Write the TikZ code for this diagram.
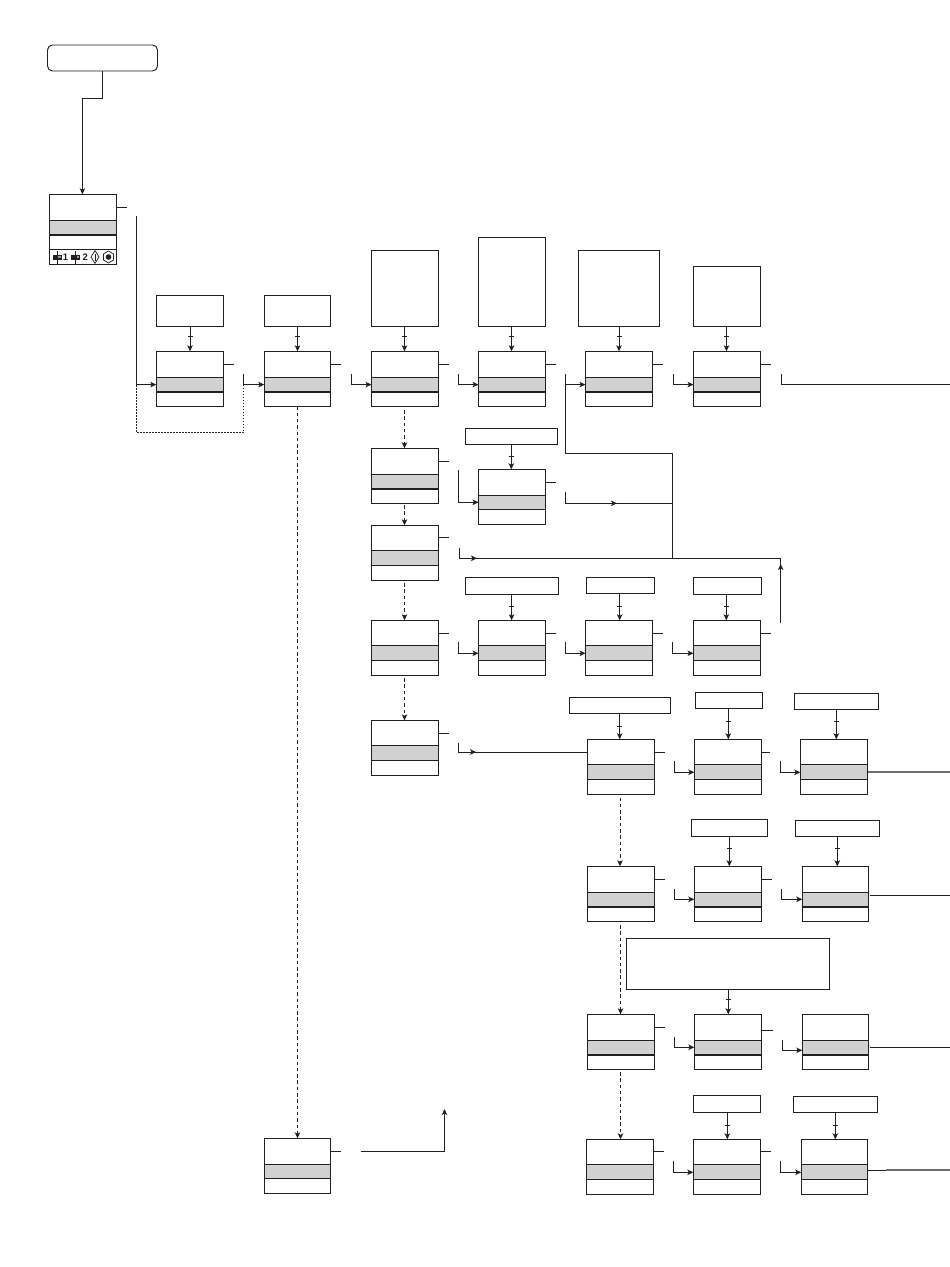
\documentclass[tikz,border=0pt]{standalone}
\usepackage{fontspec}
\setmainfont{Liberation Sans}
\usetikzlibrary{arrows.meta,calc}
\definecolor{ink}{HTML}{231F20}
\definecolor{band}{HTML}{D1D1D1}
\tikzset{
  base/.style={draw=ink,line width=0.95pt},
  frame/.style={base,rectangle,inner sep=0pt,outer sep=0pt,anchor=north west,fill=none},
  flow/.style={base,-{Stealth[length=6pt,width=5.5pt,inset=1.5pt]}},
  flowline/.style={base},
  dash link/.style={base,dash pattern=on 3.5pt off 2.8pt,-{Stealth[length=6pt,width=5.5pt,inset=1.5pt]}},
  dot link/.style={base,dash pattern=on 1.5pt off 1.5pt},
  faded/.style={draw=ink!65,line width=1.6pt},
  iconnum/.style={inner sep=0pt,font=\bfseries\fontsize{9.5}{9.5}\selectfont,text=ink},
}
% state box: name, x, y, width, bottom rule width, band top offset, band bottom offset
\newcommand\stbox[7]{%
  \fill[band] (#2,#3+#6) rectangle (#2+#4,#3+#7);
  \draw[ink,line width=0.95pt] (#2,#3+#6) -- (#2+#4,#3+#6);
  \draw[ink,line width=#5] (#2,#3+#7) -- (#2+#4,#3+#7);
  \node[frame,minimum width=#4 pt,minimum height=55pt] (#1) at (#2,#3) {};
}
\newcommand\thickbox[4]{\stbox{#1}{#2}{#3}{#4}{2pt}{26}{40.7}}
\newcommand\thinbox[4]{\stbox{#1}{#2}{#3}{#4}{0.95pt}{25}{40}}
\newcommand\thinboxb[4]{\stbox{#1}{#2}{#3}{#4}{0.95pt}{26}{40.5}}
% input box: name, x1, y1, x2, y2
\newcommand\inbox[5]{%
  \node[frame,minimum width={(#4-#2)*1pt},minimum height={(#5-#3)*1pt}] (#1) at (#2,#3) {};
}
% input link: from, to, x, tick y
\newcommand\inlink[4]{%
  \draw[flow] (#1.south -| #3,0) -- (#2.north -| #3,0);
  \draw[flowline] (#3-2.5,#4) -- (#3+2.5,#4);
}
% right stub on a box: box, offset, length
\newcommand\stub[3]{\draw[flowline] (#1.north east) ++(0,#2) -- ++(#3,0);}
% feed: box, x, top y, y
\newcommand\feed[4]{%
  \coordinate (#1-feed) at (#2,#3);
  \draw[flow] (#1-feed) |- (#1.west |- 0,#4);
}
\begin{document}
\begin{tikzpicture}[x=1pt,y=-1pt]
\useasboundingbox (0,0) rectangle (950,1267);
\fill[white] (0,0) rectangle (950,1267);

% start
\node[frame,rounded corners=5pt,minimum width=110pt,minimum height=26pt] (start) at (47.5,45) {};

% first (tall) box
\fill[band] (49.5,220.5) rectangle (116.5,234);
\draw[ink,line width=0.95pt] (49.5,220.5) -- (116.5,220.5);
\draw[ink,line width=2pt] (49.5,234.7) -- (116.5,234.7);
\draw[ink,line width=0.95pt] (49.5,249.2) -- (116.5,249.2);
\node[frame,minimum width=67pt,minimum height=70pt] (b0) at (49.5,194.3) {};
\draw[flow] (start.south) |- (82.4,98.5) -- (b0.north -| 82.4,0);
\stub{b0}{13.4}{10.5}
% icons in first box
\draw[flowline] (57.3,251) -- (57.3,264);
\fill[ink] (52.8,254.6) rectangle (61.8,259.8);
\fill[ink!45] (58,256.4) rectangle (60.6,258);
\node[iconnum] (one) at (65.5,257) {1};
\draw[flowline] (75.8,251) -- (75.8,264);
\fill[ink] (71.3,254.6) rectangle (80.3,259.8);
\fill[ink!45] (76.5,256.4) rectangle (79.1,258);
\node[iconnum] (two) at (85.3,257) {2};
\draw[ink,line width=0.7pt] (95,250.6) -- (99,257) -- (95,263.4) -- (91,257) -- cycle;
\draw[ink,line width=0.7pt] (95,253.5) -- (95,260.5);
\draw[ink,line width=0.7pt] (108.5,251) -- (113.5,254) -- (113.5,260) -- (108.5,263) -- (103.5,260) -- (103.5,254) -- cycle;
\fill[ink] (108.5,257) circle (2.8pt);

% top row
\thickbox{b1}{156.3}{351.3}{67}
\thickbox{b2}{264.3}{351.3}{66.4}
\thickbox{b3}{371.5}{351.3}{67}
\thickbox{b4}{478.5}{351.3}{67}
\thickbox{b5}{585.5}{351.3}{67}
\thickbox{b6}{693.5}{351.3}{67}
\inbox{i1}{156.3}{295.3}{223.3}{326.3}
\inbox{i2}{264.3}{295.3}{330.7}{326.3}
\inbox{i3}{371.5}{250.3}{438.5}{326.3}
\inbox{i4}{478.5}{237.3}{545.5}{326.3}
\inbox{i5}{578.3}{250.3}{659.7}{326.3}
\inbox{i6}{693.5}{266.3}{760.5}{326.3}
\inlink{i1}{b1}{190}{336.7}
\inlink{i2}{b2}{297.5}{336.7}
\inlink{i3}{b3}{404.5}{336.7}
\inlink{i4}{b4}{511.5}{336.7}
\inlink{i5}{b5}{619}{336.7}
\inlink{i6}{b6}{726.5}{336.7}
\stub{b1}{13.3}{10.5}
\stub{b2}{13.3}{10.5}
\stub{b3}{13.3}{10.5}
\stub{b4}{13.3}{10.5}
\stub{b5}{13.3}{10.5}
\stub{b6}{13.3}{10.5}
\coordinate (bus) at (136.5,216);
\draw[flow] (bus) |- (b1.west |- 0,384.6);
\coordinate (retL) at (136.5,385);
\coordinate (retR) at (243.5,385);
\draw[dot link] (retL) -- (136.5,432.5) -- (243.5,432.5) -- (retR);
\feed{b2}{243.5}{374}{384.6}
\feed{b3}{351.3}{374}{384.6}
\feed{b4}{458.3}{374}{384.6}
\feed{b5}{565.3}{374}{384.6}
\feed{b6}{673}{374}{384.6}
\coordinate (r1) at (781,374);
\coordinate (e1) at (950,384.6);
\draw[flowline] (r1) |- (e1);

% third column
\thickbox{c1}{371.5}{448.3}{67}
\thinbox{c2}{371.5}{525.3}{67}
\thinbox{c3}{371.5}{620.3}{67}
\thinbox{c4}{371.5}{720.3}{67}
\stub{c1}{13.3}{10.5}
\stub{c2}{12.5}{10.5}
\stub{c3}{13}{10.5}
\stub{c4}{13}{10.5}
\coordinate (d3) at (404.5,410);
\draw[dash link] (d3) -- (c1.north -| d3);
\coordinate (d4) at (404.5,505);
\draw[dash link] (d4) -- (c2.north -| d4);
\coordinate (d5) at (404.5,583);
\draw[dash link] (d5) -- (c3.north -| d5);
\coordinate (d6) at (404.5,678);
\draw[dash link] (d6) -- (c4.north -| d6);

% box under fourth column
\thinboxb{e2}{478.5}{469.3}{67}
\inbox{j2}{465.3}{428.3}{557.7}{444.3}
\inlink{j2}{e2}{511.3}{456.3}
\stub{e2}{13}{10.5}
\feed{e2}{458.3}{470.3}{502.3}

% collecting lines
\coordinate (n1) at (565.3,374);
\coordinate (n2) at (672.3,453.3);
\coordinate (n3) at (672.3,558.3);
\draw[flowline] (n1) |- (n2) -- (n3);
\coordinate (p1) at (565.3,492);
\coordinate (p2) at (672.3,503.3);
\draw[flowline] (p1) |- (p2);
\draw[flow] (565.3,503.3) -- (617,503.3);
\coordinate (q1) at (459.3,548);
\coordinate (q2) at (780.7,558.3);
\draw[flowline] (q1) |- (q2);
\draw[flow] (459.3,558.3) -- (477,558.3);
\coordinate (u1) at (780.7,623.3);
\draw[flowline] (u1) -- (q2);
\draw[flow] (780.7,600) -- (780.7,564);

% row at 620
\thinbox{f1}{478.5}{620.3}{67}
\thinbox{f2}{585.5}{620.3}{67}
\thinbox{f3}{693.5}{620.3}{67}
\inbox{k1}{465.3}{577.3}{558.5}{594.3}
\inbox{k2}{586.3}{577.3}{654.7}{593.7}
\inbox{k3}{693.3}{577.3}{761.7}{594.3}
\inlink{k1}{f1}{511.6}{606.7}
\inlink{k2}{f2}{619.7}{606.7}
\inlink{k3}{f3}{726.3}{606.7}
\stub{f1}{13}{10.5}
\stub{f2}{13}{10.5}
\stub{f3}{13}{10.5}
\feed{f1}{458.3}{642.3}{653.3}
\feed{f2}{565.3}{642.3}{653.3}
\feed{f3}{672.3}{642.3}{653.3}

% row at 739
\thinbox{g1}{587.3}{739.3}{67.4}
\thinbox{g2}{694.3}{739.3}{67.4}
\thinbox{g3}{800.3}{739.3}{67.4}
\inbox{l1}{569.3}{697.3}{670.3}{713.3}
\inbox{l2}{695.3}{692.3}{762.7}{708.3}
\inbox{l3}{794.3}{693.3}{878.7}{709.3}
\inlink{l1}{g1}{619.7}{726.3}
\inlink{l2}{g2}{728.3}{721.3}
\inlink{l3}{g3}{836.3}{721.3}
\stub{g1}{12.7}{10.5}
\stub{g2}{12.7}{8.5}
\coordinate (s1) at (458.5,743);
\draw[flowline] (s1) |- (g1.west |- 0,752);
\draw[flow] (458.5,752) -- (476,752);
\feed{g2}{674.3}{761.3}{772.3}
\feed{g3}{780.3}{761.3}{772.3}
\coordinate (o1) at (950,772.2);
\draw[faded] (g3.east |- o1) -- (o1);

% row at 866
\thickbox{h1}{587.3}{866.3}{67.4}
\thickbox{h2}{694.3}{866.3}{67.4}
\thickbox{h3}{802.3}{866.3}{66.4}
\inbox{m2}{691.3}{819.3}{767.7}{836.3}
\inbox{m3}{795.3}{820.3}{879.7}{836.3}
\inlink{m2}{h2}{729.3}{848.3}
\inlink{m3}{h3}{837.3}{848.3}
\stub{h1}{13}{10.5}
\stub{h2}{13}{10.5}
\feed{h2}{674.3}{889.3}{899.3}
\feed{h3}{781.3}{889.3}{899.3}
\coordinate (o2) at (950,895.3);
\coordinate (o2s) at (870,895.3);
\draw[flowline] (o2s) -- (o2);
\coordinate (d7) at (620,797.5);
\draw[dash link] (d7) -- (d7 |- h1.north);

% row at 1014
\thickbox{t1}{587.3}{1014.3}{67.4}
\thickbox{t2}{694.3}{1014.3}{67.4}
\thickbox{t3}{802.3}{1014.3}{66.4}
\inbox{w2}{626.3}{938.3}{829.7}{989.3}
\inlink{w2}{t2}{728.3}{999.3}
\stub{t1}{13}{10.5}
\stub{t2}{16}{11}
\feed{t2}{674.3}{1037}{1047.3}
\feed{t3}{782.3}{1040}{1050.3}
\coordinate (o3) at (950,1047.3);
\coordinate (o3s) at (870,1047.3);
\draw[flowline] (o3s) -- (o3);
\coordinate (d8) at (620.5,925);
\draw[dash link] (d8) -- (d8 |- t1.north);

% row at 1139
\thinbox{v1}{586.3}{1139.3}{67.4}
\thinbox{v2}{693.3}{1139.3}{67.4}
\thinbox{v3}{801.3}{1139.3}{66.4}
\inbox{x2}{693.3}{1095.3}{760.7}{1112.3}
\inbox{x3}{793.3}{1096.3}{877.7}{1112.3}
\inlink{x2}{v2}{727.3}{1125.3}
\inlink{x3}{v3}{835.3}{1125.3}
\stub{v1}{12}{10.5}
\stub{v2}{12}{10.5}
\feed{v2}{673.3}{1161.3}{1172.3}
\feed{v3}{780.3}{1161.3}{1172.3}
\coordinate (o4) at (950,1170);
\coordinate (o4s) at (886,1170);
\draw[faded] (o4s) -- (o4);
\draw[flowline] (v3.east |- o4) -- (o4s);
\coordinate (d9) at (620.5,1072);
\draw[dash link] (d9) -- (d9 |- v1.north);

% long dashed return
\thinboxb{y1}{264.3}{1138.3}{66.4}
\draw[dash link] (b2.south) -- (y1.north);
\stub{y1}{13}{10.5}
\coordinate (y2) at (360.5,1151.3);
\coordinate (y3) at (444.5,1109);
\draw[flow] (y2) -| (y3);
\end{tikzpicture}
\end{document}
